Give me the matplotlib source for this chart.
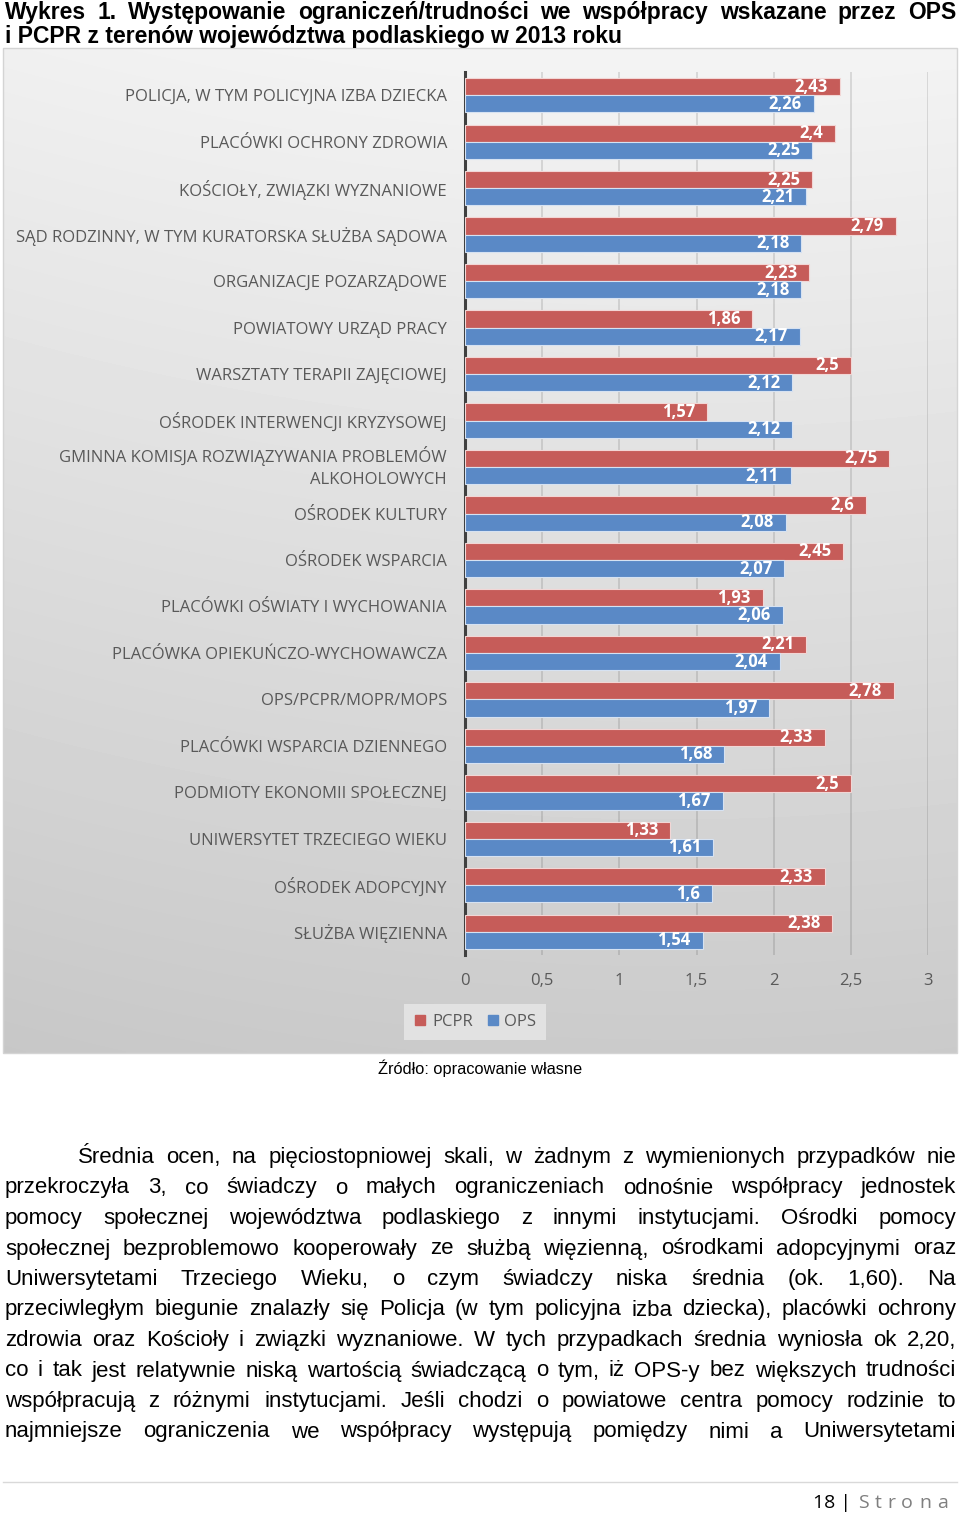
import numpy as np
import matplotlib.pyplot as plt
from matplotlib.lines import Line2D
from matplotlib.patches import Rectangle

# --- Data ---
categories = [
    'POLICJA, W TYM POLICYJNA IZBA DZIECKA',
    'PLACÓWKI OCHRONY ZDROWIA',
    'KOŚCIOŁY, ZWIĄZKI WYZNANIOWE',
    'SĄD RODZINNY, W TYM KURATORSKA SŁUŻBA SĄDOWA',
    'ORGANIZACJE POZARZĄDOWE',
    'POWIATOWY URZĄD PRACY',
    'WARSZTATY TERAPII ZAJĘCIOWEJ',
    'OŚRODEK INTERWENCJI KRYZYSOWEJ',
    'GMINNA KOMISJA ROZWIĄZYWANIA PROBLEMÓW\nALKOHOLOWYCH',
    'OŚRODEK KULTURY',
    'OŚRODEK WSPARCIA',
    'PLACÓWKI OŚWIATY I WYCHOWANIA',
    'PLACÓWKA OPIEKUŃCZO-WYCHOWAWCZA',
    'OPS/PCPR/MOPR/MOPS',
    'PLACÓWKI WSPARCIA DZIENNEGO',
    'PODMIOTY EKONOMII SPOŁECZNEJ',
    'UNIWERSYTET TRZECIEGO WIEKU',
    'OŚRODEK ADOPCYJNY',
    'SŁUŻBA WIĘZIENNA',
]
pcpr = [2.43, 2.4, 2.25, 2.79, 2.23, 1.86, 2.5, 1.57, 2.75, 2.6,
        2.45, 1.93, 2.21, 2.78, 2.33, 2.5, 1.33, 2.33, 2.38]
ops = [2.26, 2.25, 2.21, 2.18, 2.18, 2.17, 2.12, 2.12, 2.11, 2.08,
       2.07, 2.06, 2.04, 1.97, 1.68, 1.67, 1.61, 1.6, 1.54]
x_ticks = [0, 0.5, 1, 1.5, 2, 2.5, 3]

title_lines = [
    'Wykres 1. Występowanie ograniczeń/trudności we współpracy wskazane przez OPS',
    'i PCPR z terenów województwa podlaskiego w 2013 roku',
]
paragraph = [
    'Średnia ocen, na pięciostopniowej skali, w żadnym z wymienionych przypadków nie',
    'przekroczyła 3, co świadczy o małych ograniczeniach odnośnie współpracy jednostek',
    'pomocy społecznej województwa podlaskiego z innymi instytucjami. Ośrodki pomocy',
    'społecznej bezproblemowo kooperowały ze służbą więzienną, ośrodkami adopcyjnymi oraz',
    'Uniwersytetami Trzeciego Wieku, o czym świadczy niska średnia (ok. 1,60). Na',
    'przeciwległym biegunie znalazły się Policja (w tym policyjna izba dziecka), placówki ochrony',
    'zdrowia oraz Kościoły i związki wyznaniowe. W tych przypadkach średnia wyniosła ok 2,20,',
    'co i tak jest relatywnie niską wartością świadczącą o tym, iż OPS-y bez większych trudności',
    'współpracują z różnymi instytucjami. Jeśli chodzi o powiatowe centra pomocy rodzinie to',
    'najmniejsze ograniczenia we współpracy występują pomiędzy nimi a Uniwersytetami',
]

RED = '#C65C59'
BLUE = '#5A89C6'
GREY_TXT = '#595959'
DOC_FONT = ['Liberation Sans Narrow', 'Liberation Sans', 'DejaVu Sans']

plt.rcParams['font.family'] = ['Open Sans', 'DejaVu Sans']

W, H = 960, 1513
fig = plt.figure(figsize=(W / 100, H / 100), dpi=100)
fig.patch.set_facecolor('white')

# --- Page layer (pixel coordinates) ---
page = fig.add_axes([0, 0, 1, 1])
page.axis('off')

yy, xx = np.mgrid[0:1:300j, 0:1:300j]
shade = 0.955 - 0.16 * yy - 0.03 * (xx - 0.7) ** 2
page.imshow(shade, cmap='gray', vmin=0, vmax=1, extent=(3, 957, 1053, 48),
            aspect='auto', interpolation='bilinear', zorder=0)
page.add_patch(Rectangle((3, 48), 954, 1005, fill=False, ec='#d4d4d4', lw=1))
page.set_xlim(0, W)
page.set_ylim(H, 0)

renderer = fig.canvas.get_renderer()


def justify(words, x0, x1, y, **kw):
    texts = [page.text(0, y, w, ha='left', va='baseline', **kw) for w in words]
    widths = [t.get_window_extent(renderer).width for t in texts]
    gap = (x1 - x0 - sum(widths)) / max(len(texts) - 1, 1)
    x = x0
    for t, w in zip(texts, widths):
        t.set_x(x)
        x += w + gap


# --- Title ---
justify(title_lines[0].split(), 5, 956, 19, family=DOC_FONT, fontsize=16.5,
        fontweight='bold')
page.text(5, 43, title_lines[1], ha='left', va='baseline', family=DOC_FONT,
          fontsize=16.5, fontweight='bold')

# --- Chart ---
ax = fig.add_axes([465 / W, 1 - 955 / H, 463 / W, 883 / H])
ax.patch.set_alpha(0)

y = np.arange(len(categories))
bh = 0.37
ax.barh(y - bh / 2, pcpr, height=bh, color=RED, edgecolor='#f2d6d5',
        linewidth=0.8, zorder=3)
ax.barh(y + bh / 2, ops, height=bh, color=BLUE, edgecolor='#d6e2f2',
        linewidth=0.8, zorder=3)

for yi, (p, o) in enumerate(zip(pcpr, ops)):
    for val, off in ((p, -bh / 2), (o, bh / 2)):
        ax.annotate(f'{val:g}'.replace('.', ','), xy=(val, yi + off),
                    xytext=(-12, 0), textcoords='offset pixels',
                    ha='right', va='center', color='white',
                    fontsize=12, fontweight='bold', zorder=4)

ax.set_xlim(0, 3)
ax.set_ylim(len(categories) - 0.5, -0.5)
ax.set_xticks(x_ticks, [f'{t:g}'.replace('.', ',') for t in x_ticks])
ax.set_yticks(y, categories)
ax.tick_params(axis='x', length=0, pad=13, labelsize=12, labelcolor=GREY_TXT)
ax.tick_params(axis='y', length=0, pad=13, labelsize=12, labelcolor=GREY_TXT)
for lbl in ax.get_yticklabels():
    if '\n' in lbl.get_text():
        lbl.set_linespacing(1.45)
        lbl.set_va('center')
ax.grid(axis='x', color='black', alpha=0.13, linewidth=1.2)
ax.set_axisbelow(True)
for side in ('top', 'right', 'bottom'):
    ax.spines[side].set_visible(False)
ax.spines['left'].set_color('#404040')
ax.spines['left'].set_linewidth(2.2)

# --- Legend ---
handles = [
    Line2D([], [], marker='s', ls='none', color=RED, markersize=7, label='PCPR'),
    Line2D([], [], marker='s', ls='none', color=BLUE, markersize=7, label='OPS'),
]
fig.legend(handles=handles, loc='center', bbox_to_anchor=(475 / W, 1 - 1022 / H),
           ncol=2, frameon=True, facecolor='#e2e2e2', edgecolor='none',
           framealpha=1, fancybox=False, handlelength=0.8, handletextpad=0.3,
           columnspacing=0.8, borderpad=0.6, labelcolor=GREY_TXT,
           prop={'family': 'Open Sans', 'size': 12})

# --- Source & paragraph ---
page.text(480, 1074, 'Źródło: opracowanie własne', ha='center', va='baseline',
          family=['Liberation Sans', 'DejaVu Sans'], fontsize=11.8)

for i, line in enumerate(paragraph):
    x0 = 78 if i == 0 else 5
    justify(line.split(), x0, 956, 1163 + 30.5 * i, family=DOC_FONT, fontsize=16)

# --- Footer ---
page.plot([3, 957], [1482, 1482], color='#d9d9d9', lw=1)
page.text(851, 1508, '18 |', ha='right', va='baseline', fontsize=14, color='black')
justify(list('Strona'), 858, 948, 1508, fontsize=14, color='#7f7f7f')

fig.savefig('out.png', dpi=100)
